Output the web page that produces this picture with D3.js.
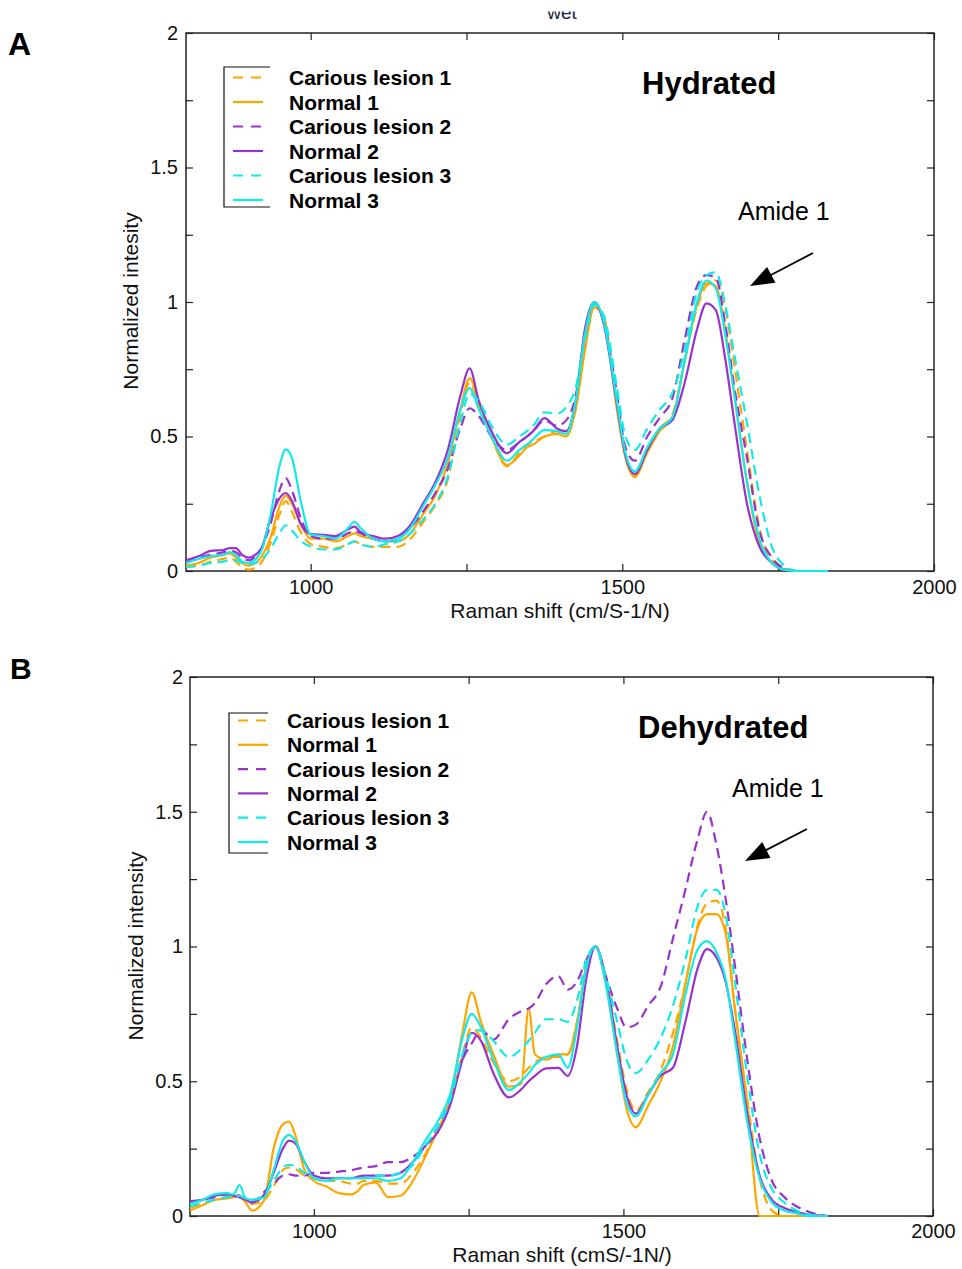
<!DOCTYPE html>
<html>
<head>
<meta charset="utf-8">
<script src="https://cdn.jsdelivr.net/npm/d3@7/dist/d3.min.js"></script>
<style>
html,body{margin:0;padding:0;background:#fff;}
svg{display:block;}
text{font-family:"Liberation Sans",Arial,Helvetica,sans-serif;}
</style>
</head>
<body>
<svg id="chart" width="962" height="1269"></svg>
<script>
// ---------- DATA ----------
const wavenumbers = [800,820,840,860,870,880,890,900,920,935,950,960,970,985,1000,1020,1040,1060,1070,1080,1100,1120,1140,1160,1180,1200,1220,1240,1255,1270,1290,1315,1335,1347,1357,1375,1395,1410,1425,1440,1455,1470,1490,1505,1520,1540,1560,1580,1600,1620,1635,1650,1665,1680,1700,1720,1740,1760,1780,1800,1830];

const seriesLabels = ["Carious lesion 1","Normal 1","Carious lesion 2","Normal 2","Carious lesion 3","Normal 3"];
const seriesColors = ["#FFA500","#FFA500","#9932CC","#9932CC","#12EAEA","#12EAEA"];
const seriesDashed = [true,false,true,false,true,false];

// Panel A: Hydrated
const hydratedCarious1 = [0.015,0.02,0.035,0.045,0.05,0.035,0.015,0.005,0.03,0.1,0.21,0.26,0.22,0.14,0.1,0.09,0.085,0.1,0.11,0.1,0.09,0.09,0.09,0.12,0.18,0.245,0.34,0.58,0.7,0.62,0.5,0.39,0.44,0.47,0.48,0.5,0.52,0.52,0.6,0.84,0.99,0.94,0.66,0.44,0.35,0.45,0.53,0.58,0.78,0.98,1.06,1.08,0.98,0.76,0.45,0.16,0.04,0.01,0,0,0];
const hydratedNormal1 = [0.02,0.03,0.05,0.06,0.065,0.05,0.03,0.02,0.05,0.12,0.24,0.28,0.25,0.17,0.12,0.12,0.11,0.13,0.14,0.13,0.12,0.11,0.11,0.14,0.21,0.28,0.4,0.6,0.716,0.63,0.5,0.394,0.43,0.46,0.47,0.5,0.51,0.5,0.6,0.82,0.98,0.95,0.62,0.42,0.35,0.44,0.52,0.57,0.78,0.99,1.07,1.06,0.9,0.65,0.33,0.1,0.03,0.005,0,0,0];
const hydratedCarious2 = [0.03,0.05,0.06,0.07,0.075,0.07,0.05,0.04,0.08,0.17,0.3,0.345,0.3,0.19,0.13,0.12,0.12,0.14,0.15,0.14,0.12,0.11,0.12,0.16,0.22,0.29,0.38,0.53,0.605,0.575,0.5,0.45,0.48,0.5,0.52,0.56,0.54,0.56,0.65,0.88,1.0,0.93,0.68,0.46,0.41,0.5,0.57,0.64,0.86,1.06,1.1,1.09,0.92,0.68,0.42,0.15,0.05,0.01,0,0,0];
const hydratedNormal2 = [0.04,0.055,0.075,0.078,0.085,0.085,0.06,0.05,0.08,0.19,0.27,0.29,0.26,0.17,0.137,0.134,0.13,0.155,0.165,0.145,0.13,0.12,0.13,0.17,0.25,0.33,0.45,0.65,0.753,0.63,0.52,0.438,0.48,0.5,0.52,0.568,0.53,0.52,0.63,0.9,1.0,0.92,0.64,0.43,0.36,0.45,0.53,0.56,0.7,0.9,0.995,0.97,0.79,0.55,0.25,0.09,0.03,0.005,0,0,0];
const hydratedCarious3 = [0.015,0.02,0.03,0.035,0.04,0.04,0.03,0.025,0.04,0.08,0.14,0.17,0.15,0.11,0.09,0.08,0.08,0.1,0.11,0.1,0.09,0.1,0.11,0.14,0.19,0.25,0.35,0.55,0.66,0.63,0.54,0.47,0.5,0.52,0.54,0.59,0.585,0.61,0.68,0.86,0.99,0.95,0.7,0.5,0.45,0.53,0.6,0.66,0.82,1.04,1.1,1.11,0.99,0.8,0.55,0.28,0.09,0.02,0,0,0];
const hydratedNormal3 = [0.03,0.045,0.055,0.06,0.07,0.06,0.035,0.03,0.07,0.2,0.39,0.452,0.42,0.25,0.135,0.13,0.12,0.16,0.183,0.16,0.12,0.11,0.12,0.16,0.24,0.32,0.42,0.6,0.68,0.6,0.5,0.41,0.45,0.47,0.49,0.524,0.52,0.51,0.63,0.88,1.0,0.93,0.65,0.44,0.37,0.46,0.53,0.57,0.78,1.0,1.08,1.05,0.88,0.65,0.33,0.12,0.03,0.005,0,0,0];

// Panel B: Dehydrated
const dehydratedCarious1 = [0.03,0.045,0.06,0.07,0.075,0.07,0.055,0.045,0.06,0.11,0.17,0.18,0.175,0.15,0.14,0.13,0.13,0.12,0.12,0.13,0.13,0.12,0.12,0.16,0.23,0.32,0.42,0.6,0.7,0.66,0.57,0.5,0.52,0.55,0.57,0.59,0.59,0.6,0.72,0.92,1.0,0.9,0.65,0.47,0.39,0.46,0.54,0.68,0.86,1.08,1.16,1.17,1.07,0.77,0.43,0.14,0.02,0,0,0,0];
const dehydratedNormal1 = [0.02,0.04,0.06,0.065,0.07,0.075,0.05,0.02,0.06,0.25,0.34,0.35,0.3,0.17,0.13,0.11,0.085,0.08,0.09,0.115,0.125,0.07,0.075,0.13,0.22,0.32,0.43,0.68,0.83,0.72,0.6,0.48,0.49,0.77,0.6,0.58,0.6,0.6,0.72,0.93,1.0,0.88,0.6,0.4,0.33,0.41,0.5,0.63,0.86,1.07,1.12,1.12,1.05,0.77,0.42,0,0,0,0,0,0];
const dehydratedCarious2 = [0.05,0.06,0.07,0.08,0.08,0.075,0.06,0.05,0.09,0.12,0.15,0.155,0.15,0.15,0.16,0.16,0.165,0.17,0.175,0.18,0.185,0.2,0.2,0.22,0.26,0.33,0.43,0.58,0.64,0.69,0.655,0.73,0.76,0.77,0.79,0.86,0.89,0.84,0.87,0.95,1.0,0.9,0.77,0.7,0.71,0.78,0.85,1.03,1.21,1.4,1.5,1.38,1.18,0.93,0.58,0.29,0.13,0.07,0.035,0.015,0];
const dehydratedNormal2 = [0.055,0.06,0.075,0.08,0.075,0.07,0.06,0.05,0.08,0.16,0.25,0.28,0.27,0.2,0.15,0.14,0.14,0.14,0.145,0.15,0.15,0.15,0.16,0.2,0.26,0.31,0.41,0.58,0.68,0.65,0.53,0.44,0.47,0.5,0.52,0.548,0.55,0.52,0.63,0.88,1.0,0.9,0.63,0.45,0.38,0.45,0.52,0.55,0.72,0.92,0.99,0.96,0.87,0.69,0.38,0.15,0.06,0.03,0.015,0.005,0];
const dehydratedCarious3 = [0.035,0.05,0.06,0.07,0.075,0.075,0.065,0.06,0.08,0.13,0.18,0.19,0.185,0.16,0.14,0.13,0.14,0.14,0.14,0.14,0.15,0.15,0.16,0.19,0.26,0.33,0.43,0.6,0.68,0.69,0.65,0.59,0.62,0.65,0.68,0.73,0.73,0.72,0.8,0.95,1.0,0.9,0.72,0.58,0.53,0.58,0.66,0.78,0.95,1.15,1.21,1.21,1.12,0.87,0.52,0.23,0.1,0.05,0.02,0.005,0];
const dehydratedNormal3 = [0.045,0.06,0.08,0.085,0.08,0.115,0.065,0.06,0.07,0.17,0.28,0.3,0.28,0.2,0.14,0.13,0.14,0.14,0.14,0.14,0.14,0.13,0.14,0.2,0.28,0.35,0.45,0.66,0.75,0.7,0.58,0.467,0.5,0.53,0.56,0.59,0.6,0.55,0.7,0.92,1.0,0.88,0.6,0.42,0.37,0.45,0.53,0.6,0.82,0.99,1.02,0.98,0.88,0.66,0.35,0.14,0.05,0.02,0.01,0,0];

const xTickValues = [1000,1250,1500,1750,2000];
const xTickLabels = [1000,1500,2000];
const yTickValues = [0,0.25,0.5,0.75,1,1.25,1.5,1.75,2];
const yTickLabels = [0,0.5,1,1.5,2];

// ---------- LAYOUT ----------
const panels = [
  {letter:"A", letterX:8, letterY:55, letterSize:32,
   left:186, right:934, top:33, bottom:571,
   series:[hydratedCarious1,hydratedNormal1,hydratedCarious2,hydratedNormal2,hydratedCarious3,hydratedNormal3],
   title:"Hydrated", titleX:642, titleY:94,
   amideX:738, amideY:220, arrow:[813,253,750,286],
   xLabel:"Raman shift (cm/S-1/N)", xLabelX:560, xLabelY:618,
   yLabel:"Normalized intesity", yLabelX:138, yLabelY:301,
   legLeft:224, legTop:67, legBottom:207, legRight:270, legL1:233, legL2:263, legText:289, legRow0:77.5, legStep:24.5,
   xPad:9, yPad:8},
  {letter:"B", letterX:10, letterY:679, letterSize:30,
   left:190, right:933, top:677, bottom:1216,
   series:[dehydratedCarious1,dehydratedNormal1,dehydratedCarious2,dehydratedNormal2,dehydratedCarious3,dehydratedNormal3],
   title:"Dehydrated", titleX:638, titleY:738,
   amideX:732, amideY:797, arrow:[807,829,745,861],
   xLabel:"Raman shift (cmS/-1N/)", xLabelX:562, xLabelY:1262,
   yLabel:"Normalized intensity", yLabelX:143, yLabelY:946,
   legLeft:229, legTop:713, legBottom:853, legRight:268, legL1:238, legL2:268, legText:287, legRow0:720.5, legStep:24.3,
   xPad:8, yPad:7}
];

const svg = d3.select("#chart");
const FONT = '"Liberation Sans",Arial,Helvetica,sans-serif';
const AXIS_COLOR = "#222";

// cropped "wet" title remnant at top (only lower part visible)
svg.append("clipPath").attr("id","wetclip").append("rect").attr("x",520).attr("y",11.5).attr("width",90).attr("height",20);
svg.append("text").attr("x",562).attr("y",18.5).attr("text-anchor","middle")
  .attr("font-size",19).attr("fill","#1b2238").attr("clip-path","url(#wetclip)").text("wet");

panels.forEach(p => {
  const g = svg.append("g");
  const x = d3.scaleLinear().domain([800,2000]).range([p.left,p.right]);
  const y = d3.scaleLinear().domain([0,2]).range([p.bottom,p.top]);

  // panel letter
  g.append("text").attr("x",p.letterX).attr("y",p.letterY).attr("font-size",p.letterSize)
    .attr("font-weight","bold").text(p.letter);

  // axes (inward ticks)
  const xfmt = v => xTickLabels.includes(v) ? String(v) : "";
  const yfmt = v => yTickLabels.includes(v) ? String(v) : "";
  const styleAxis = sel => {
    sel.select(".domain").remove();
    sel.attr("font-size",20).attr("font-family",FONT).attr("color",AXIS_COLOR);
    sel.selectAll(".tick line").attr("stroke-width",1.2);
    sel.selectAll(".tick text").attr("fill","#111");
  };
  g.append("g").attr("transform",`translate(0,${p.bottom})`)
    .call(d3.axisBottom(x).tickValues(xTickValues).tickSize(-7).tickSizeOuter(0).tickPadding(p.xPad).tickFormat(xfmt))
    .call(styleAxis);
  g.append("g").attr("transform",`translate(0,${p.top})`)
    .call(d3.axisTop(x).tickValues(xTickValues).tickSize(-7).tickSizeOuter(0).tickFormat(""))
    .call(styleAxis);
  g.append("g").attr("transform",`translate(${p.left},0)`)
    .call(d3.axisLeft(y).tickValues(yTickValues).tickSize(-7).tickSizeOuter(0).tickPadding(p.yPad).tickFormat(yfmt))
    .call(styleAxis);
  g.append("g").attr("transform",`translate(${p.right},0)`)
    .call(d3.axisRight(y).tickValues(yTickValues).tickSize(-7).tickSizeOuter(0).tickFormat(""))
    .call(styleAxis);

  // frame
  g.append("rect").attr("x",p.left).attr("y",p.top).attr("width",p.right-p.left).attr("height",p.bottom-p.top)
    .attr("fill","none").attr("stroke",AXIS_COLOR).attr("stroke-width",1.5);

  // spectra
  const clipId = "clip"+p.letter;
  svg.append("clipPath").attr("id",clipId).append("rect")
    .attr("x",p.left).attr("y",p.top-2).attr("width",p.right-p.left).attr("height",p.bottom-p.top+3);
  const line = d3.line().x((d,i)=>x(wavenumbers[i])).y(d=>y(d)).curve(d3.curveMonotoneX);
  const lg = g.append("g").attr("clip-path",`url(#${clipId})`);
  p.series.forEach((s,k) => {
    lg.append("path").attr("d",line(s)).attr("fill","none")
      .attr("stroke",seriesColors[k]).attr("stroke-width",2.2)
      .attr("stroke-linejoin","round")
      .attr("stroke-dasharray",seriesDashed[k] ? "10,6" : null);
  });

  // legend
  const leg = g.append("g");
  leg.append("path").attr("d",`M${p.legRight},${p.legTop}H${p.legLeft}V${p.legBottom}H${p.legRight}`)
    .attr("fill","none").attr("stroke","#111").attr("stroke-width",1.2);
  seriesLabels.forEach((lab,k) => {
    const yy = p.legRow0 + k*p.legStep;
    leg.append("line").attr("x1",p.legL1).attr("x2",p.legL2).attr("y1",yy).attr("y2",yy)
      .attr("stroke",seriesColors[k]).attr("stroke-width",2.2)
      .attr("stroke-dasharray",seriesDashed[k] ? "10,8" : null);
    leg.append("text").attr("x",p.legText).attr("y",yy).attr("dy","0.36em")
      .attr("font-size",21).attr("font-weight","bold").attr("fill","#000").text(lab);
  });

  // title & annotation
  g.append("text").attr("x",p.titleX).attr("y",p.titleY).attr("font-size",31).attr("font-weight","bold").text(p.title);
  g.append("text").attr("x",p.amideX).attr("y",p.amideY).attr("font-size",25).text("Amide 1");
  const [sx,sy,tx,ty] = p.arrow;
  const dx = tx-sx, dy = ty-sy, len = Math.hypot(dx,dy), ux = dx/len, uy = dy/len;
  const hl = 24, hw = 9;
  const bx = tx-ux*hl, by = ty-uy*hl;
  g.append("line").attr("x1",sx).attr("y1",sy).attr("x2",bx+ux*2).attr("y2",by+uy*2)
    .attr("stroke","#000").attr("stroke-width",1.8);
  g.append("path").attr("d",`M${tx},${ty}L${bx-uy*hw},${by+ux*hw}L${bx+uy*hw},${by-ux*hw}Z`).attr("fill","#000");

  // axis labels
  g.append("text").attr("x",p.xLabelX).attr("y",p.xLabelY).attr("text-anchor","middle")
    .attr("font-size",21).attr("fill","#111").text(p.xLabel);
  g.append("text").attr("transform",`translate(${p.yLabelX},${p.yLabelY}) rotate(-90)`)
    .attr("text-anchor","middle").attr("font-size",21).attr("fill","#111").text(p.yLabel);
});
</script>
</body>
</html>
